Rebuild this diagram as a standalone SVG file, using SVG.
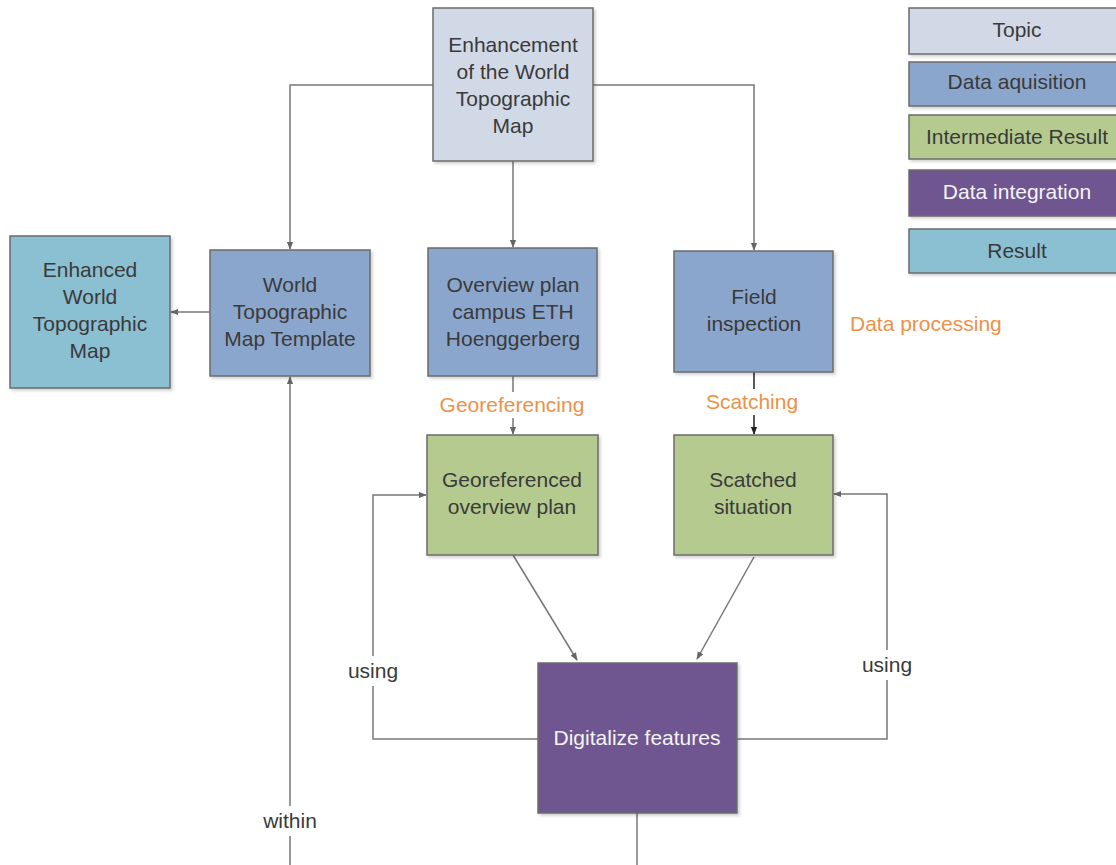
<svg xmlns="http://www.w3.org/2000/svg" width="1116" height="865" viewBox="0 0 1116 865">
<style>
text{font-family:"Liberation Sans",Arial,sans-serif;font-size:21px;fill:#3a3a3a;text-anchor:middle}
.box{stroke:#6b6b6b;stroke-width:1.5}
.topic{fill:#d1d9e7}.acq{fill:#8ba6cd}.inter{fill:#b5ca8f}.integ{fill:#705790}.res{fill:#8bbfd2}
.w{fill:#f4f4f8}
.lbl{fill:#ee9148}
.ll{text-anchor:start}
.c{fill:none;stroke:#777;stroke-width:1.5}
</style>
<defs>
<marker id="a" viewBox="0 0 10 10" refX="9" refY="5" markerWidth="8" markerHeight="8" markerUnits="userSpaceOnUse" orient="auto"><path d="M0,1 L10,5 L0,9 Z" fill="#666"/></marker>
<marker id="ab" viewBox="0 0 10 10" refX="9" refY="5" markerWidth="8" markerHeight="8" markerUnits="userSpaceOnUse" orient="auto"><path d="M0,1 L10,5 L0,9 Z" fill="#222"/></marker>
<filter id="sh" x="-5%" y="-5%" width="115%" height="115%"><feDropShadow dx="2" dy="2" stdDeviation="1.5" flood-color="#000" flood-opacity="0.18"/></filter>
</defs>
<rect width="1116" height="865" fill="#fff"/>

<g id="connectors">
<path class="c" d="M433,85 H290 V249" marker-end="url(#a)"/>
<path class="c" d="M593,85 H754 V250" marker-end="url(#a)"/>
<path class="c" d="M513,161 V247" marker-end="url(#a)"/>
<path class="c" d="M210,312 H171" marker-end="url(#a)"/>
<path class="c" d="M513,376 V392 M513,418 V434" marker-end="url(#a)"/>
<path class="c" style="stroke:#222" d="M754,372 V389 M754,415 V434" marker-end="url(#ab)"/>
<path class="c" d="M513,555 L577,660" marker-end="url(#a)"/>
<path class="c" d="M754,557 L697,659" marker-end="url(#a)"/>
<path class="c" d="M538,739 H373 V686 M373,656 V495 H426" marker-end="url(#a)"/>
<path class="c" d="M737,739 H887 V680 M887,650 V494 H834" marker-end="url(#a)"/>
<path class="c" d="M637,813 V865"/>
<path class="c" d="M290,865 V836 M290,806 V377" marker-end="url(#a)"/>
<text x="512" y="412" class="lbl">Georeferencing</text>
<text x="752" y="409" class="lbl">Scatching</text>
<text x="373" y="678">using</text>
<text x="887" y="672">using</text>
<text x="290" y="828">within</text>
<text x="850" y="331" class="lbl ll">Data processing</text>
</g>

<g id="topic">
<rect class="box topic" x="433" y="8" width="160" height="153" filter="url(#sh)"/>
<text x="513" y="52">Enhancement</text>
<text x="513" y="79">of the World</text>
<text x="513" y="106">Topographic</text>
<text x="513" y="133">Map</text>
</g>

<g id="enhanced">
<rect class="box res" x="10" y="236" width="160" height="152" filter="url(#sh)"/>
<text x="90" y="277">Enhanced</text>
<text x="90" y="304">World</text>
<text x="90" y="331">Topographic</text>
<text x="90" y="358">Map</text>
</g>

<g id="template">
<rect class="box acq" x="210" y="250" width="160" height="126" filter="url(#sh)"/>
<text x="290" y="292">World</text>
<text x="290" y="319">Topographic</text>
<text x="290" y="346">Map Template</text>
</g>

<g id="overview">
<rect class="box acq" x="428" y="248" width="169" height="128" filter="url(#sh)"/>
<text x="513" y="292">Overview plan</text>
<text x="513" y="319">campus ETH</text>
<text x="513" y="346">Hoenggerberg</text>
</g>

<g id="field">
<rect class="box acq" x="674" y="251" width="159" height="121" filter="url(#sh)"/>
<text x="754" y="304">Field</text>
<text x="754" y="331">inspection</text>
</g>

<g id="georef">
<rect class="box inter" x="427" y="435" width="171" height="120" filter="url(#sh)"/>
<text x="512" y="487">Georeferenced</text>
<text x="512" y="514">overview plan</text>
</g>

<g id="scatched">
<rect class="box inter" x="674" y="435" width="159" height="120" filter="url(#sh)"/>
<text x="753" y="487">Scatched</text>
<text x="753" y="514">situation</text>
</g>

<g id="digitalize">
<rect class="box integ" x="538" y="663" width="199" height="150" filter="url(#sh)"/>
<text x="637" y="745" style="fill:#f4f4f8">Digitalize features</text>
</g>

<g id="legend">
<rect class="box topic" x="909" y="8" width="230" height="46" filter="url(#sh)"/>
<text x="1017" y="37">Topic</text>
<rect class="box acq" x="909" y="62" width="230" height="44" filter="url(#sh)"/>
<text x="1017" y="89">Data aquisition</text>
<rect class="box inter" x="909" y="115" width="230" height="44" filter="url(#sh)"/>
<text x="1017" y="144">Intermediate Result</text>
<rect class="box integ" x="909" y="170" width="230" height="46" filter="url(#sh)"/>
<text x="1017" y="199" style="fill:#f4f4f8">Data integration</text>
<rect class="box res" x="909" y="229" width="230" height="44" filter="url(#sh)"/>
<text x="1017" y="258">Result</text>
</g>
</svg>
